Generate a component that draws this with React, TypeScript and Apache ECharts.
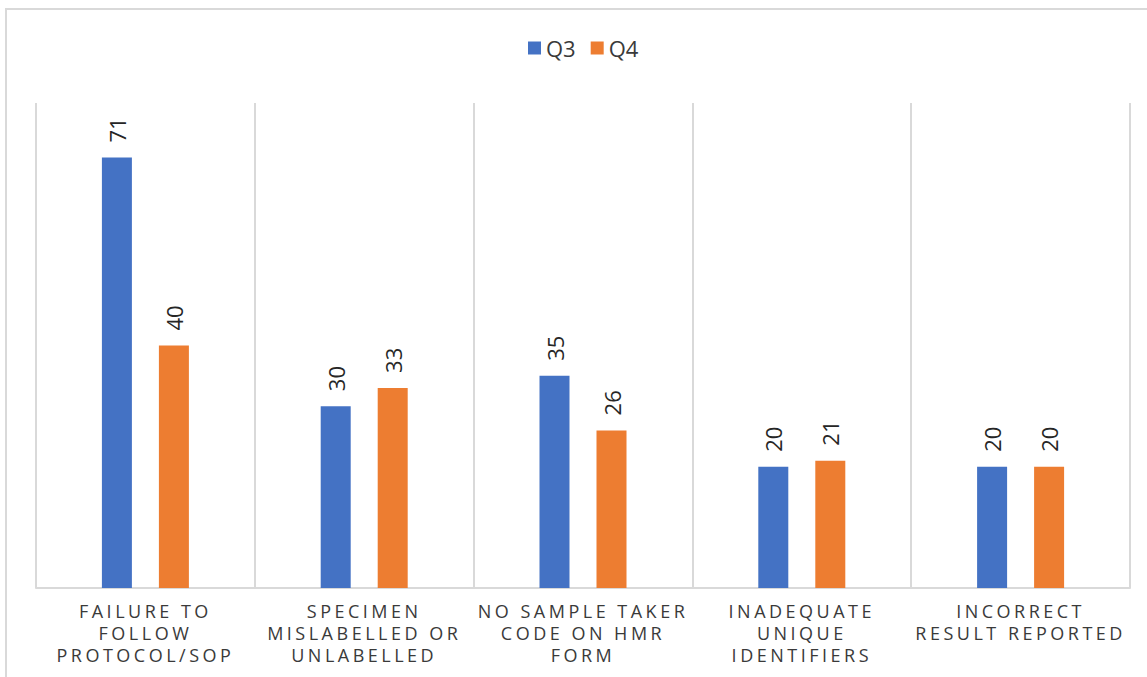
import React, { useEffect, useRef } from "react";
import * as echarts from "echarts";

// Incident categories (drawn in upper case, one line per row of the label)
const CATEGORIES: string[] = [
  "FAILURE TO\nFOLLOW\nPROTOCOL/SOP",
  "SPECIMEN\nMISLABELLED OR\nUNLABELLED",
  "NO SAMPLE TAKER\nCODE ON HMR\nFORM",
  "INADEQUATE\nUNIQUE\nIDENTIFIERS",
  "INCORRECT\nRESULT REPORTED",
];

const SERIES_NAMES: string[] = ["Q3", "Q4"];
const Q3_VALUES: number[] = [71, 30, 35, 20, 20];
const Q4_VALUES: number[] = [40, 33, 26, 21, 20];

const COLORS = ["#4472C4", "#ED7D31"];
const FONT = "'Open Sans', 'Noto Sans', sans-serif";
const TEXT_COLOR = "#3a3a3a";
const VALUE_COLOR = "#262626";
const RULE_COLOR = "#d9d9d9";

export default function App() {
  const ref = useRef<HTMLDivElement | null>(null);

  useEffect(() => {
    const el = ref.current;
    if (!el) return;
    const chart = echarts.init(el, undefined, { renderer: "svg" });

    const barLabel = {
      show: true,
      position: "top",
      rotate: 90,
      align: "left",
      verticalAlign: "middle",
      distance: 15,
      fontFamily: FONT,
      fontSize: 22,
      color: VALUE_COLOR,
    };

    chart.setOption({
      animation: false,
      backgroundColor: "#ffffff",
      graphic: [
        {
          type: "rect",
          shape: { x: 6, y: 9, width: 1200, height: 720 },
          style: { fill: "none", stroke: RULE_COLOR, lineWidth: 2 },
          silent: true,
        },
      ],
      legend: {
        data: SERIES_NAMES,
        left: 523,
        top: 32,
        icon: "rect",
        itemWidth: 13,
        itemHeight: 13,
        itemGap: 15,
        textStyle: { fontFamily: FONT, fontSize: 22, color: TEXT_COLOR },
      },
      grid: { left: 36, right: 17, top: 103, bottom: 89 },
      xAxis: {
        type: "category",
        data: CATEGORIES,
        axisLine: { show: true, lineStyle: { color: RULE_COLOR, width: 2 } },
        axisTick: { show: false },
        splitLine: {
          show: true,
          interval: 0,
          lineStyle: { color: RULE_COLOR, width: 2 },
        },
        axisLabel: {
          interval: 0,
          margin: 12,
          fontFamily: FONT,
          fontSize: 18,
          lineHeight: 22,
          color: TEXT_COLOR,
        },
      },
      yAxis: {
        type: "value",
        min: 0,
        max: 80,
        show: false,
        splitLine: { show: false },
      },
      series: [
        {
          name: SERIES_NAMES[0],
          type: "bar",
          data: Q3_VALUES,
          barWidth: 30,
          barGap: "90%",
          itemStyle: { color: COLORS[0] },
          label: barLabel,
        },
        {
          name: SERIES_NAMES[1],
          type: "bar",
          data: Q4_VALUES,
          barWidth: 30,
          barGap: "90%",
          itemStyle: { color: COLORS[1] },
          label: barLabel,
        },
      ],
    });

    // Widen the tracking of the category labels
    const lines = new Set(CATEGORIES.flatMap((c) => c.split("\n")));
    const spaceOut = () => {
      el.querySelectorAll("text, tspan").forEach((node) => {
        const t = (node.textContent || "").trim();
        if (lines.has(t)) {
          (node as SVGElement).style.letterSpacing = "3.5px";
        }
      });
    };
    spaceOut();
    chart.on("finished", spaceOut);

    return () => {
      chart.dispose();
    };
  }, []);

  return (
    <div
      ref={ref}
      style={{ position: "fixed", left: 0, top: 0, width: 1147, height: 677 }}
    />
  );
}
